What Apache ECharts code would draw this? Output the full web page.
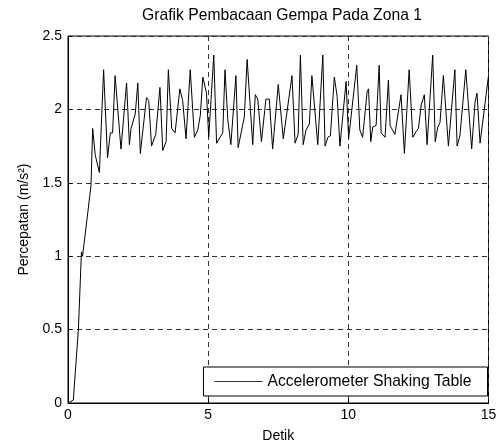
<!DOCTYPE html>
<html>
<head>
<meta charset="utf-8">
<script src="https://cdn.jsdelivr.net/npm/echarts@6/dist/echarts.min.js"></script>
<style>
html,body{margin:0;padding:0;background:#fff;}
#chart{width:501px;height:443px;}
</style>
</head>
<body>
<div id="chart"></div>
<script>
const titleText = 'Grafik Pembacaan Gempa Pada Zona 1';
const xName = 'Detik';
const yName = 'Percepatan (m/s²)';
const seriesName = 'Accelerometer Shaking Table';
const xTicks = [0, 5, 10, 15];
const yTicks = [0, 0.5, 1, 1.5, 2, 2.5];

const times = [
  0.00, 0.19, 0.37, 0.48, 0.52, 0.82, 0.88, 0.97, 1.12, 1.27,
  1.41, 1.51, 1.59, 1.68, 1.89, 2.09, 2.19, 2.25, 2.40, 2.49,
  2.58, 2.80, 2.88, 2.98, 3.13, 3.28, 3.38, 3.50, 3.58, 3.70,
  3.82, 3.99, 4.09, 4.21, 4.36, 4.51, 4.63, 4.72, 4.81, 4.94,
  5.02, 5.20, 5.30, 5.52, 5.60, 5.70, 5.81, 5.99, 6.07, 6.29,
  6.39, 6.59, 6.68, 6.77, 6.90, 7.06, 7.18, 7.30, 7.50, 7.68,
  7.99, 8.10, 8.21, 8.29, 8.39, 8.49, 8.61, 8.70, 8.91, 9.09,
  9.17, 9.27, 9.36, 9.50, 9.60, 9.70, 9.92, 10.01, 10.30, 10.41,
  10.51, 10.67, 10.72, 10.80, 10.87, 10.99, 11.10, 11.17, 11.31, 11.43,
  11.49, 11.66, 11.88, 12.00, 12.17, 12.30, 12.42, 12.50, 12.60, 12.71,
  12.81, 13.01, 13.10, 13.19, 13.27, 13.39, 13.57, 13.80, 13.88, 13.98,
  14.05, 14.19, 14.40, 14.52, 14.59, 14.70, 15.00
];
const accel = [
  0.00, 0.02, 0.50, 1.03, 1.00, 1.48, 1.87, 1.69, 1.57, 2.27,
  1.67, 1.84, 1.84, 2.23, 1.73, 2.18, 1.76, 1.87, 1.97, 2.18,
  1.70, 2.08, 2.06, 1.75, 1.83, 2.15, 1.72, 1.78, 2.27, 1.87,
  1.84, 2.14, 2.06, 1.80, 2.27, 1.81, 1.86, 1.96, 2.22, 2.11,
  1.81, 2.37, 1.77, 1.84, 2.27, 1.93, 1.76, 2.23, 1.74, 1.95,
  2.34, 1.76, 2.10, 2.07, 1.78, 2.07, 2.07, 1.73, 2.17, 1.80,
  2.23, 1.77, 1.83, 2.37, 1.76, 1.86, 1.90, 2.23, 1.76, 2.37,
  1.75, 1.81, 1.82, 2.22, 2.09, 1.75, 2.19, 1.80, 2.30, 1.86,
  1.81, 2.12, 2.14, 1.78, 1.88, 1.89, 2.30, 1.84, 1.81, 2.20,
  1.89, 1.83, 2.10, 1.70, 2.27, 1.81, 1.85, 1.87, 2.03, 2.10,
  1.76, 2.37, 1.78, 1.88, 1.91, 2.23, 1.75, 2.27, 1.75, 1.82,
  1.82, 2.27, 1.73, 2.05, 2.11, 1.77, 2.23
];

const data = times.map((t, i) => [t, accel[i]]);
const FONT = '"Liberation Sans", Arial, sans-serif';

const chart = echarts.init(document.getElementById('chart'), null, {renderer: 'canvas'});
chart.setOption({
  animation: false,
  backgroundColor: '#fff',
  textStyle: {fontFamily: FONT, color: '#000'},
  title: {
    text: titleText,
    left: 277, top: 3, textAlign: 'center',
    textStyle: {fontFamily: FONT, fontSize: 15.7, fontWeight: 'normal', color: '#000'}
  },
  grid: {
    left: 68, right: 12.5, top: 36, bottom: 40,
    outerBoundsMode: 'none',
    containLabel: false,
    show: true, borderColor: '#000', borderWidth: 1, backgroundColor: '#fff'
  },
  legend: {
    data: [seriesName],
    right: 13.5, top: 367,
    padding: [6.5, 16, 6.5, 11],
    icon: 'rect',
    itemWidth: 48, itemHeight: 1,
    itemStyle: {color: '#333'},
    backgroundColor: '#fff',
    borderColor: '#000', borderWidth: 1, borderRadius: 0,
    textStyle: {fontFamily: FONT, fontSize: 15.7, color: '#000'}
  },
  xAxis: {
    type: 'value', min: xTicks[0], max: xTicks[xTicks.length - 1], interval: 5,
    name: xName, nameLocation: 'middle', nameGap: 26,
    nameTextStyle: {fontFamily: FONT, fontSize: 14, color: '#000'},
    axisLine: {show: true, lineStyle: {color: '#000', width: 1}},
    axisTick: {show: true, inside: true, length: 4, lineStyle: {color: '#000'}},
    axisLabel: {fontFamily: FONT, fontSize: 14, color: '#000', margin: 5},
    splitLine: {show: true, lineStyle: {color: '#333', type: [5, 4], width: 1}}
  },
  yAxis: {
    type: 'value', min: yTicks[0], max: yTicks[yTicks.length - 1], interval: 0.5,
    name: yName, nameLocation: 'middle', nameGap: 35,
    nameTextStyle: {fontFamily: FONT, fontSize: 14, color: '#000'},
    axisLine: {show: true, lineStyle: {color: '#000', width: 1}},
    axisTick: {show: true, inside: true, length: 4, lineStyle: {color: '#000'}},
    axisLabel: {fontFamily: FONT, fontSize: 14, color: '#000', margin: 6},
    splitLine: {show: true, lineStyle: {color: '#333', type: [5, 4], width: 1}}
  },
  series: [{
    name: seriesName,
    type: 'line',
    data: data,
    symbol: 'none',
    showSymbol: false,
    lineStyle: {color: '#000', width: 1},
    itemStyle: {color: '#000'}
  }]
});
</script>
</body>
</html>
